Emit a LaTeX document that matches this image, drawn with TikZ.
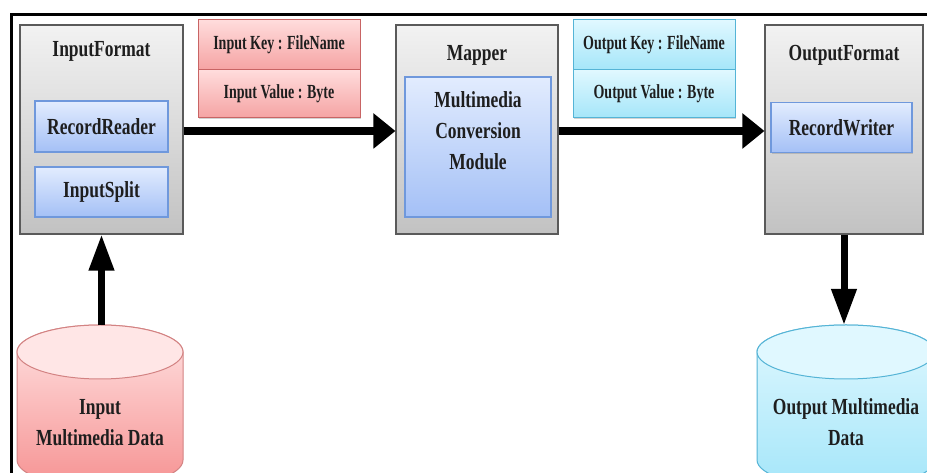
\documentclass[tikz,border=0pt]{standalone}
\usepackage{fontspec}
\setmainfont{Liberation Serif}
\newfontfamily\lblf[FakeStretch=0.76]{Liberation Serif}
\newfontfamily\keyf[FakeStretch=0.7]{Liberation Serif}
\usetikzlibrary{arrows.meta,shadows}
\definecolor{grayT}{HTML}{F2F2F2}
\definecolor{grayB}{HTML}{C2C2C2}
\definecolor{grayD}{HTML}{5A5A5A}
\definecolor{blueT}{HTML}{E2ECFE}
\definecolor{blueB}{HTML}{A4C0F6}
\definecolor{blueD}{HTML}{6F98DC}
\definecolor{redT}{HTML}{FFDCDC}
\definecolor{redB}{HTML}{F5A3A3}
\definecolor{redD}{HTML}{C86464}
\definecolor{cyanT}{HTML}{E0F8FF}
\definecolor{cyanB}{HTML}{A5E6F9}
\definecolor{cyanD}{HTML}{55B4D6}
\definecolor{txt}{HTML}{1E1E1E}
\tikzset{
  shad/.style={drop shadow={opacity=0.35,shadow xshift=1.2pt,shadow yshift=-1.5pt}},
  outerbox/.style={draw=grayD,line width=1.1pt,top color=grayT,bottom color=grayB,
    minimum height=209pt,inner sep=0pt,shad},
  innerbox/.style={draw=blueD,line width=1.1pt,top color=blueT,bottom color=blueB,
    inner sep=0pt,shad},
  redbox/.style={draw=redD,line width=1pt,top color=redT,bottom color=redB,
    minimum width=162pt,inner sep=0pt,shad},
  cyanbox/.style={draw=cyanD,line width=1pt,top color=cyanT,bottom color=cyanB,
    minimum width=162pt,inner sep=0pt,shad},
  lbl/.style={font=\lblf\bfseries\fontsize{23}{31}\selectfont,text=txt,align=center,inner sep=0pt},
  keylbl/.style={font=\keyf\bfseries\fontsize{20}{22}\selectfont,text=txt},
  bigarrow/.style={line width=8pt,-{Triangle[width=34pt,length=22pt]}},
  vertarrow/.style={line width=7pt,-{Triangle[width=24pt,length=36pt]}},
}
\begin{document}
\begin{tikzpicture}[x=1pt,y=1pt]
\useasboundingbox (0,0) rectangle (927,473);
\clip (0,0) rectangle (927,473);
\fill[white] (0,0) rectangle (927,473);

% frame
\draw[line width=3pt] (11,0) -- (11,458.5) -- (927,458.5);

% InputFormat
\node[outerbox,minimum width=163pt] (ifBox) at (101.5,343.5) {};
\node[lbl,anchor=base] (ifT) at (101.5,416) {InputFormat};
\node[innerbox,lbl,minimum width=133pt,minimum height=51pt] (rr) at (101.5,346.5) {RecordReader};
\node[innerbox,lbl,minimum width=133pt,minimum height=50pt] (is) at (101.5,281) {InputSplit};

% input key/value
\node[redbox,keylbl,minimum height=50pt] (ik) at (279,428) {Input Key : FileName};
\node[redbox,keylbl,minimum height=48pt] (iv) at (279,379) {Input Value : Byte};

% Mapper
\node[outerbox,minimum width=162pt] (mapBox) at (477,343.5) {};
\node[lbl,anchor=base] (mapT) at (477,412) {Mapper};
\node[innerbox,minimum width=146pt,minimum height=140pt] (mcm) at (478,326) {};
\node[lbl] (mcmT) at (478,342) {Multimedia\\Conversion\\Module};

% output key/value
\node[cyanbox,keylbl,minimum height=50pt] (ok) at (654,428) {Output Key : FileName};
\node[cyanbox,keylbl,minimum height=48pt] (ov) at (654,379) {Output Value : Byte};

% OutputFormat
\node[outerbox,minimum width=158pt] (ofBox) at (844,343.5) {};
\node[lbl,anchor=base] (ofT) at (844,412) {OutputFormat};
\node[innerbox,lbl,minimum width=141pt,minimum height=50pt] (rw) at (841.5,345.5) {RecordWriter};

% cylinders
\path[top color=redT!80!white,bottom color=redB!90!red,draw=redD!80,line width=1pt]
  (17,121) -- (17,13) arc[start angle=180,end angle=360,x radius=83,y radius=27]
  -- (183,121) arc[start angle=0,end angle=180,x radius=83,y radius=27] -- cycle;
\draw[fill=redT!70!white,draw=redD!80,line width=1pt] (100,121) ellipse[x radius=83,y radius=27];
\coordinate (inTop) at (100,148);
\node[lbl] (inT) at (100,50.5) {Input\\Multimedia Data};

\path[top color=cyanT,bottom color=cyanB,draw=cyanD,line width=1pt]
  (757,121) -- (757,13) arc[start angle=180,end angle=360,x radius=89,y radius=27]
  -- (935,121) arc[start angle=0,end angle=180,x radius=89,y radius=27] -- cycle;
\draw[fill=cyanT,draw=cyanD,line width=1pt] (846,121) ellipse[x radius=89,y radius=27];
\coordinate (outTop) at (846,148);
\node[lbl] (outT) at (846,50.5) {Output Multimedia\\Data};

% connectors
\draw[bigarrow] ([yshift=-1.5pt]ifBox.east) -- ([yshift=-1.5pt]mapBox.west);
\draw[bigarrow] ([yshift=-1.5pt]mapBox.east) -- ([yshift=-1.5pt]ofBox.west);
\draw[vertarrow] (ifBox.south |- inTop) -- (ifBox.south);
\draw[vertarrow] (ofBox.south) -- (ofBox.south |- outTop);
\end{tikzpicture}
\end{document}
